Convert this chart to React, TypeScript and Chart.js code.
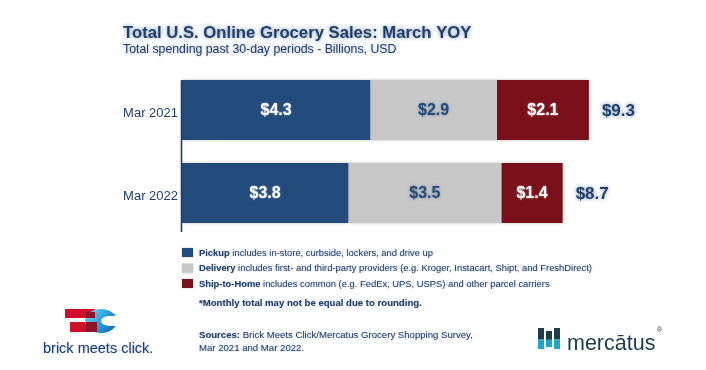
import React, { useEffect, useRef } from "react";
import { Chart, registerables } from "chart.js";

Chart.register(...registerables);

const categories = ["Mar 2021", "Mar 2022"];
const pickup = [4.3, 3.8];
const delivery = [2.9, 3.5];
const shipToHome = [2.1, 1.4];
const totals = [9.3, 8.7];
const seriesNames = ["Pickup", "Delivery", "Ship-to-Home"];
const legendDescriptions = [
  " includes in-store, curbside, lockers, and drive up",
  " includes first- and third-party providers (e.g. Kroger, Instacart, Shipt, and FreshDirect)",
  " includes common (e.g. FedEx, UPS, USPS) and other parcel carriers",
];
const titleText = "Total U.S. Online Grocery Sales: March YOY";
const subtitleText = "Total spending past 30-day periods - Billions, USD";
const footnoteText = "*Monthly total may not be equal due to rounding.";
const sourcesLabel = "Sources:";
const sourcesLine1 = " Brick Meets Click/Mercatus Grocery Shopping Survey,";
const sourcesLine2 = "Mar 2021 and Mar 2022.";

const BLUE = "#224a7b";
const GRAY = "#c7c7c7";
const RED = "#7a111a";
const TEXT_BLUE = "#213f6b";
const colors = [BLUE, GRAY, RED];
const labelColors = ["#ffffff", BLUE, "#ffffff"];
const FONT = "Liberation Sans, Arial, sans-serif";

function glow(ctx: CanvasRenderingContext2D, c = "rgba(34,74,123,0.55)", b = 3) {
  ctx.shadowColor = c;
  ctx.shadowBlur = b;
  ctx.shadowOffsetX = 0;
  ctx.shadowOffsetY = 0;
}

const barShadowPlugin = {
  id: "barShadow",
  beforeDatasetsDraw(chart: any) {
    const ctx = chart.ctx;
    ctx.save();
    glow(ctx, "rgba(0,0,0,0.28)", 3);
  },
  afterDatasetsDraw(chart: any) {
    chart.ctx.restore();
  },
};

const overlayPlugin = {
  id: "overlay",
  afterDraw(chart: any) {
    const ctx: CanvasRenderingContext2D = chart.ctx;
    ctx.save();

    // y axis line: from top of first bar to near bottom of chart area
    const first = chart.getDatasetMeta(0).data[0];
    ctx.strokeStyle = TEXT_BLUE;
    ctx.lineWidth = 1.5;
    glow(ctx, "rgba(34,74,123,0.3)", 1);
    ctx.beginPath();
    ctx.moveTo(chart.chartArea.left - 0.5, first.y - first.height / 2);
    ctx.lineTo(chart.chartArea.left - 0.5, chart.chartArea.bottom - 2.5);
    ctx.stroke();

    ctx.textBaseline = "middle";
    // bar value labels
    chart.data.datasets.forEach((ds: any, di: number) => {
      const meta = chart.getDatasetMeta(di);
      meta.data.forEach((el: any, i: number) => {
        const cx = (el.x + el.base) / 2;
        ctx.font = `bold 16px ${FONT}`;
        ctx.fillStyle = labelColors[di];
        ctx.textAlign = "center";
        if (di === 1) glow(ctx, "rgba(34,74,123,0.5)", 3);
        else glow(ctx, "rgba(255,255,255,0.6)", 2);
        ctx.fillText("$" + ds.data[i].toFixed(1), cx, el.y + 1);
      });
    });

    // totals
    const lastMeta = chart.getDatasetMeta(chart.data.datasets.length - 1);
    lastMeta.data.forEach((el: any, i: number) => {
      ctx.font = `bold 17px ${FONT}`;
      ctx.fillStyle = TEXT_BLUE;
      ctx.textAlign = "left";
      glow(ctx, "rgba(34,74,123,0.6)", 4);
      ctx.fillText("$" + totals[i].toFixed(1), el.x + 13, el.y + 1);
    });

    ctx.textBaseline = "alphabetic";
    // title
    glow(ctx, "rgba(34,74,123,0.6)", 4);
    ctx.fillStyle = TEXT_BLUE;
    ctx.textAlign = "left";
    ctx.font = `bold 16.7px ${FONT}`;
    ctx.fillText(titleText, 123, 37.5);
    ctx.font = `12.3px ${FONT}`;
    glow(ctx, "rgba(34,74,123,0.45)", 3);
    ctx.fillText(subtitleText, 123, 53);

    // legend
    const lx = chart.chartArea.left;
    const rows = [253, 268.5, 284];
    seriesNames.forEach((n, i) => {
      glow(ctx, "rgba(0,0,0,0.25)", 2);
      ctx.fillStyle = colors[i];
      ctx.fillRect(lx, rows[i] - 5, 11, 9);
      glow(ctx, "rgba(34,74,123,0.4)", 2);
      ctx.fillStyle = TEXT_BLUE;
      ctx.font = `bold 9.4px ${FONT}`;
      ctx.textBaseline = "middle";
      ctx.fillText(n, lx + 17, rows[i]);
      const w = ctx.measureText(n).width;
      ctx.font = `9.4px ${FONT}`;
      ctx.fillText(legendDescriptions[i], lx + 17 + w, rows[i]);
    });
    ctx.font = `bold 9.6px ${FONT}`;
    ctx.fillText(footnoteText, lx + 17, 303);
    ctx.fillText(sourcesLabel, lx + 17, 335);
    const sw = ctx.measureText(sourcesLabel).width;
    ctx.font = `9.6px ${FONT}`;
    ctx.fillText(sourcesLine1, lx + 17 + sw, 335);
    ctx.fillText(sourcesLine2, lx + 17, 348);

    // brick meets click logo
    ctx.shadowBlur = 0;
    ctx.fillStyle = "#d0102a";
    ctx.fillRect(65, 309, 30, 9);
    ctx.fillRect(70, 322, 27, 10);
    const g = ctx.createLinearGradient(86, 309, 116, 333);
    g.addColorStop(0, "#7fd6f5");
    g.addColorStop(0.5, "#2aa0dc");
    g.addColorStop(1, "#0a5fa8");
    ctx.fillStyle = g;
    ctx.beginPath();
    ctx.ellipse(101, 321, 16, 12, 0, 0, Math.PI * 2);
    ctx.fill();
    ctx.fillStyle = "#ffffff";
    ctx.beginPath();
    ctx.ellipse(110, 321, 9, 5, 0, 0, Math.PI * 2);
    ctx.fill();
    ctx.fillRect(110, 316, 10, 10);
    ctx.fillStyle = "#8e1426";
    ctx.fillRect(86, 312, 9, 6);
    ctx.fillRect(86, 322, 11, 10);
    glow(ctx, "rgba(34,74,123,0.4)", 2);
    ctx.fillStyle = "#1f3f78";
    ctx.font = `14.5px ${FONT}`;
    ctx.fillText("brick meets click.", 43, 349);

    // mercatus logo
    ctx.shadowBlur = 0;
    const bars = [
      [538, 328, 6, 21],
      [546, 331, 6, 16],
      [554, 328, 6, 21],
    ];
    bars.forEach(([x, y, w, h]) => {
      ctx.fillStyle = "#1d3c4d";
      ctx.fillRect(x, y, w, h * 0.55);
      ctx.fillStyle = "#1ba8cc";
      ctx.fillRect(x, y + h * 0.55, w, h * 0.45);
    });
    ctx.fillStyle = "#1d3c4d";
    ctx.font = `21.5px ${FONT}`;
    ctx.fillText("mercātus", 567, 344);
    ctx.font = `7px ${FONT}`;
    ctx.fillText("®", 657, 330);

    ctx.restore();
  },
};

export default function App() {
  const ref = useRef<HTMLCanvasElement>(null);
  useEffect(() => {
    document.body.style.margin = "0";
    const chart = new Chart(ref.current!, {
      type: "bar",
      data: {
        labels: categories,
        datasets: [
          { label: seriesNames[0], data: pickup, backgroundColor: BLUE },
          { label: seriesNames[1], data: delivery, backgroundColor: GRAY },
          { label: seriesNames[2], data: shipToHome, backgroundColor: RED },
        ],
      },
      options: {
        indexAxis: "y",
        responsive: false,
        animation: false,
        barPercentage: 0.72,
        categoryPercentage: 1,
        layout: { padding: { top: 68.5, bottom: 135.5, left: 0, right: 86.5 } },
        plugins: { legend: { display: false }, tooltip: { enabled: false }, title: { display: false } },
        scales: {
          x: { stacked: true, min: 0, max: 10, display: false, grid: { display: false } },
          y: {
            stacked: true,
            grid: { display: false, drawTicks: false },
            border: { display: false },
            ticks: { color: TEXT_BLUE, font: { family: FONT, size: 13 }, padding: 4, labelOffset: 3 },
            afterFit: (s: any) => { s.width = 182; },
          },
        },
      } as any,
      plugins: [barShadowPlugin, overlayPlugin],
    });
    return () => chart.destroy();
  }, []);
  return (
    <div style={{ position: "absolute", left: 0, top: 0, width: 706, height: 370, background: "#fff" }}>
      <canvas ref={ref} width={706} height={370} />
    </div>
  );
}
